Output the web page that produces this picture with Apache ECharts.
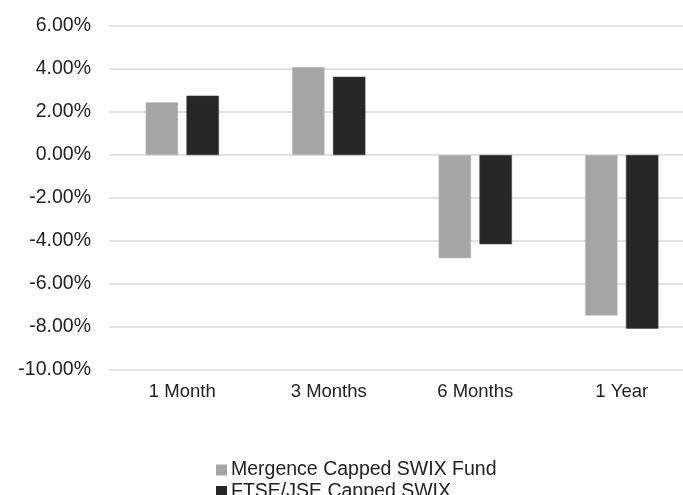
<!DOCTYPE html>
<html>
<head>
<meta charset="utf-8">
<script src="https://cdn.jsdelivr.net/npm/echarts@6/dist/echarts.min.js"></script>
<style>
html,body{margin:0;padding:0;background:#fff;overflow:hidden;width:683px;height:495px;}
#chart{width:695px;height:520px;}
</style>
</head>
<body>
<div id="chart"></div>
<script>
const categories = ['1 Month', '3 Months', '6 Months', '1 Year'];
const seriesNames = ['Mergence Capped SWIX Fund', 'FTSE/JSE Capped SWIX'];
const fundValues = [2.45, 4.09, -4.80, -7.47];
const indexValues = [2.76, 3.64, -4.15, -8.08];
const yMin = -10, yMax = 6, yStep = 2;

const chart = echarts.init(document.getElementById('chart'), null, {renderer: 'canvas'});
const font = 'Liberation Sans, Arial, sans-serif';
chart.setOption({
  animation: false,
  backgroundColor: '#ffffff',
  grid: {left: 109, right: 0, top: 26, bottom: 150, containLabel: false},
  xAxis: {
    type: 'category',
    data: categories,
    axisLine: {show: false, onZero: false},
    axisTick: {show: false},
    axisLabel: {fontSize: 18.5, color: '#222', fontFamily: font, margin: 12}
  },
  yAxis: {
    type: 'value',
    min: yMin, max: yMax, interval: yStep,
    axisLine: {show: false},
    axisTick: {show: false},
    splitLine: {lineStyle: {color: '#d9d9d9', width: 1.5}},
    axisLabel: {fontSize: 19.5, color: '#222', fontFamily: font, margin: 18,
      formatter: v => v.toFixed(2) + '%'}
  },
  legend: {
    orient: 'vertical',
    left: 216, top: 460,
    padding: 0,
    itemWidth: 11, itemHeight: 11, itemGap: 1.5,
    icon: 'rect',
    itemStyle: {borderWidth: 0},
    textStyle: {fontSize: 19.5, color: '#222', fontFamily: font, lineHeight: 20, padding: [0,0,0,-1]},
    data: seriesNames
  },
  series: [
    {name: seriesNames[0], type: 'bar', data: fundValues, barGap: '26%', barCategoryGap: '50%',
     itemStyle: {color: '#a5a5a5', borderColor: '#bdbdbd', borderWidth: 0.5}},
    {name: seriesNames[1], type: 'bar', data: indexValues,
     itemStyle: {color: '#262626', borderColor: '#3a3a3a', borderWidth: 0.5}}
  ]
});
</script>
</body>
</html>
